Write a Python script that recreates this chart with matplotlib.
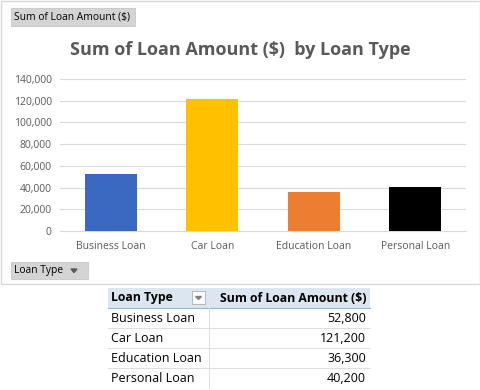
import matplotlib
matplotlib.use("Agg")
import matplotlib.pyplot as plt
from matplotlib.patches import Rectangle, Polygon
import numpy as np

categories = ["Business Loan", "Car Loan", "Education Loan", "Personal Loan"]
amounts = [52800, 121200, 36300, 40200]
colors = ["#3B68C1", "#FFC000", "#ED7D31", "#000000"]
yticks = [0, 20000, 40000, 60000, 80000, 100000, 120000, 140000]
title = "Sum of Loan Amount ($)  by Loan Type"
table_header = ["Loan Type", "Sum of Loan Amount ($)"]

W, H = 481, 390
fig = plt.figure(figsize=(W / 100, H / 100), dpi=100)
plt.rcParams['font.family'] = ['Open Sans', 'DejaVu Sans']

def fx(x):
    return x / W

def fy(y):
    return 1 - y / H

# chart border
fig.patches.append(Rectangle((fx(0.5), fy(284)), fx(479.5), (284 - 0.5) / H,
                             transform=fig.transFigure, fill=False,
                             edgecolor="#D9D9D9", lw=1))

# axes
left, right, top, bottom = 60, 466, 79, 231
ax = fig.add_axes([fx(left), fy(bottom), fx(right - left), (bottom - top) / H])
x = np.arange(len(categories))
ax.bar(x, amounts, width=0.51, color=colors, zorder=3)
ax.set_xlim(-0.5, len(categories) - 0.5)
ax.set_ylim(0, 140000)
ax.set_yticks(yticks)
ax.set_yticklabels([f"{v:,}" for v in yticks], fontsize=7.5, color="#595959")
ax.set_xticks(x)
ax.set_xticklabels(categories, fontsize=7.5, color="#595959")
ax.tick_params(length=0, pad=6)
ax.tick_params(axis='x', pad=7)
ax.grid(axis='y', color="#D9D9D9", lw=0.8, zorder=0)
for s in ["top", "right", "left"]:
    ax.spines[s].set_visible(False)
ax.spines["bottom"].set_color("#D9D9D9")
ax.set_facecolor("none")

# title
fig.text(fx(240), fy(50), title, ha="center", va="center", fontsize=13,
         fontweight="bold", color="#595959")

# buttons
def button(x0, y0, x1, y1, text, arrow_x=None):
    fig.patches.append(Rectangle((fx(x0), fy(y1)), fx(x1 - x0), (y1 - y0) / H,
                                 transform=fig.transFigure, facecolor="#D4D4D4",
                                 edgecolor="#C0C0C0", lw=0.5))
    fig.text(fx(x0 + 3), fy((y0 + y1) / 2), text, ha="left", va="center",
             fontsize=7.4, color="#000000")
    if arrow_x is not None:
        cy = (y0 + y1) / 2
        fig.patches.append(Polygon([(fx(arrow_x - 3), fy(cy - 1.5)), (fx(arrow_x + 3), fy(cy - 1.5)),
                                    (fx(arrow_x), fy(cy + 2))], closed=True,
                                   transform=fig.transFigure, color="#595959"))

button(11, 8, 135, 26, "Sum of Loan Amount ($)")
button(11, 262, 88, 279, "Loan Type", arrow_x=74)

# pivot table
c0, c1, c2 = 108, 209, 370
rtop = 288
rh = 20
# header
fig.patches.append(Rectangle((fx(c0), fy(rtop + rh)), fx(c2 - c0), rh / H,
                             transform=fig.transFigure, facecolor="#DCE6F1",
                             edgecolor="none"))
fig.add_artist(plt.Line2D([fx(c0), fx(c2)], [fy(rtop + rh), fy(rtop + rh)],
                          transform=fig.transFigure, color="#95B3D7", lw=0.8))
fig.text(fx(c0 + 3), fy(rtop + rh / 2), table_header[0], ha="left", va="center",
         fontsize=8.8, fontweight="bold", color="#000000")
fig.text(fx(c2 - 3), fy(rtop + rh / 2), table_header[1], ha="right", va="center",
         fontsize=8.8, fontweight="bold", color="#000000")
# dropdown box
fig.patches.append(Rectangle((fx(192), fy(rtop + 16)), fx(13), 13 / H,
                             transform=fig.transFigure, facecolor="#FFFFFF",
                             edgecolor="#A0A0A0", lw=0.5))
fig.patches.append(Polygon([(fx(195.5), fy(rtop + 8.5)), (fx(201.5), fy(rtop + 8.5)),
                            (fx(198.5), fy(rtop + 11.5))], closed=True,
                           transform=fig.transFigure, color="#808080"))
for i, (cat, val) in enumerate(zip(categories, amounts)):
    y0 = rtop + rh * (i + 1)
    fig.text(fx(c0 + 3), fy(y0 + rh / 2), cat, ha="left", va="center",
             fontsize=9, color="#000000")
    fig.text(fx(c2 - 4), fy(y0 + rh / 2), f"{val:,}", ha="right", va="center",
             fontsize=9, color="#000000")
    if i < len(categories) - 1:
        fig.add_artist(plt.Line2D([fx(c0), fx(c2)], [fy(y0 + rh), fy(y0 + rh)],
                                  transform=fig.transFigure, color="#D9D9D9", lw=0.6))
fig.add_artist(plt.Line2D([fx(c1), fx(c1)], [fy(rtop + rh), fy(rtop + rh * 5)],
                          transform=fig.transFigure, color="#D9D9D9", lw=0.6))

fig.savefig("out.png", dpi=100)
